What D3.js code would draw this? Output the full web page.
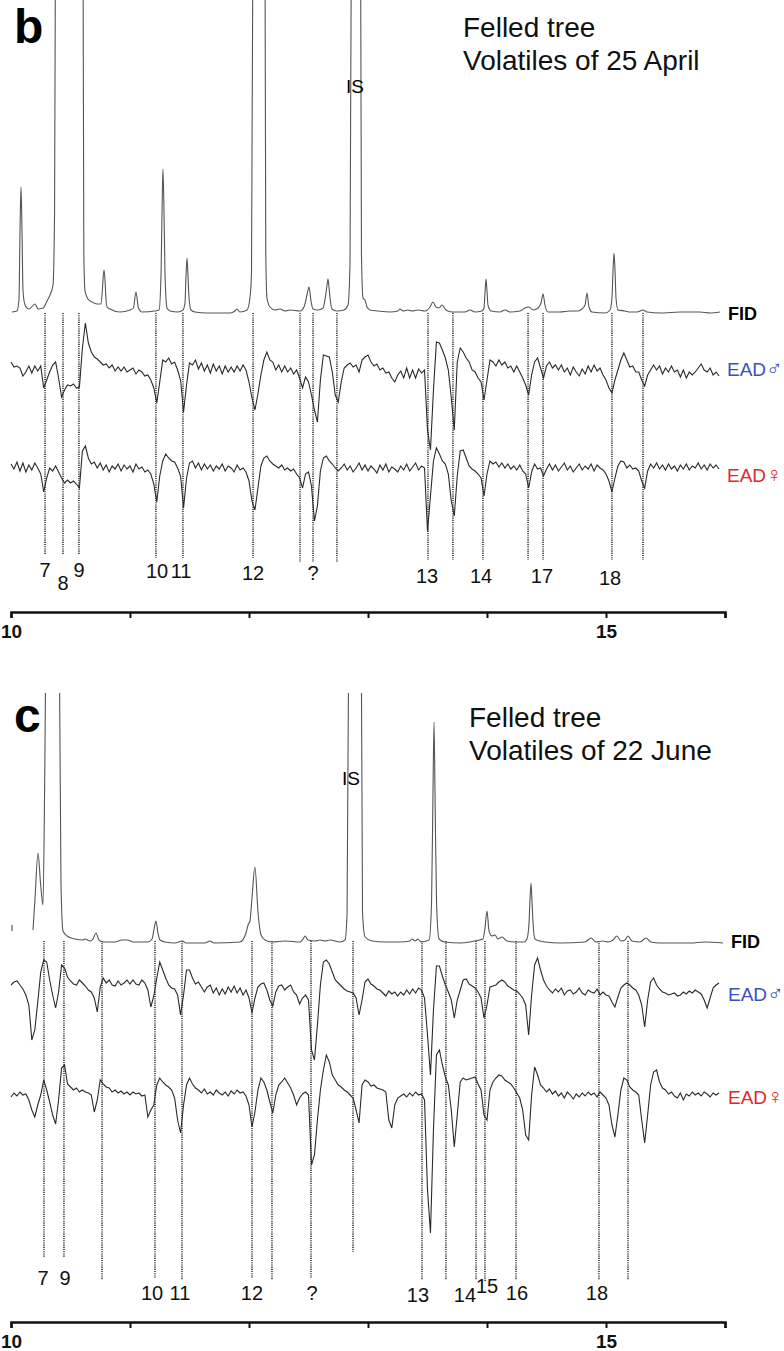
<!DOCTYPE html>
<html>
<head>
<meta charset="utf-8">
<script src="https://cdn.jsdelivr.net/npm/d3@7"></script>
<style>
  body { margin: 0; background: #fff; }
  text { font-family: "Liberation Sans", Arial, sans-serif; }
</style>
</head>
<body>
<script>
// retention time axis (min)
var axisTicks = [10, 11, 12, 13, 14, 15, 16];
var tickLabels = ["10", "", "", "", "", "15", ""];

// FID traces: [retention time (min), response]
var fidB = [[10.008,1],[10.050,2],[10.067,13],[10.076,85],[10.084,126],[10.092,85],[10.101,22],[10.118,8],[10.151,4],[10.202,9],[10.227,4],[10.269,5],[10.303,12],[10.328,18],[10.353,28],[10.366,100],[10.374,400],[10.487,5000],[10.605,400],[10.612,60],[10.622,22],[10.647,14],[10.681,11],[10.723,9],[10.756,9],[10.769,25],[10.774,35],[10.782,43],[10.790,33],[10.797,16],[10.807,6],[10.832,4],[10.916,1],[11.000,3],[11.029,5],[11.050,21],[11.071,5],[11.101,1],[11.210,2],[11.244,3],[11.261,40],[11.269,100],[11.277,144],[11.286,100],[11.294,40],[11.311,5],[11.336,2],[11.403,1],[11.445,3],[11.462,10],[11.471,38],[11.479,55],[11.487,38],[11.496,15],[11.513,3],[11.546,1],[11.647,0],[11.840,0],[11.882,2],[11.899,4],[11.924,1],[11.983,3],[12.008,15],[12.021,40],[12.034,400],[12.084,6000],[12.134,400],[12.141,60],[12.151,15],[12.176,6],[12.218,3],[12.261,4],[12.303,2],[12.345,3],[12.429,2],[12.462,6],[12.487,18],[12.504,26],[12.521,12],[12.538,4],[12.580,3],[12.622,5],[12.647,20],[12.656,28],[12.664,34],[12.672,26],[12.681,15],[12.697,4],[12.739,2],[12.798,3],[12.832,8],[12.849,50],[12.861,400],[12.899,6000],[12.937,400],[12.945,60],[12.958,15],[12.975,13],[12.992,6],[13.017,3],[13.084,2],[13.185,1],[13.252,2],[13.269,4],[13.294,2],[13.336,3],[13.370,2],[13.420,3],[13.479,2],[13.521,6],[13.546,11],[13.571,6],[13.597,5],[13.622,8],[13.655,3],[13.706,1],[13.815,1],[13.857,3],[13.899,1],[13.958,2],[13.975,5],[13.984,22],[13.992,34],[14.000,22],[14.008,8],[14.034,2],[14.109,1],[14.151,3],[14.193,1],[14.277,2],[14.319,5],[14.353,6],[14.387,3],[14.429,5],[14.454,10],[14.471,19],[14.487,8],[14.513,1],[14.613,1],[14.697,2],[14.765,2],[14.798,4],[14.824,8],[14.840,20],[14.857,6],[14.882,1],[14.992,0],[15.034,3],[15.050,15],[15.059,42],[15.067,60],[15.076,42],[15.084,15],[15.101,3],[15.160,2],[15.202,1],[15.261,1],[15.311,3],[15.345,1],[15.454,0],[15.622,1],[15.790,1],[15.874,0],[15.958,1]];

var fidC = [[10.185,13],[10.202,45],[10.227,90],[10.248,60],[10.269,38],[10.282,150],[10.290,260],[10.345,5000],[10.408,260],[10.420,60],[10.437,12],[10.471,7],[10.538,4],[10.605,3],[10.622,4],[10.664,2],[10.689,4],[10.714,10],[10.739,3],[10.773,1],[10.874,1],[10.933,3],[10.983,3],[11.025,1],[11.151,1],[11.185,4],[11.202,14],[11.218,22],[11.235,10],[11.252,3],[11.294,1],[11.378,0],[11.437,2],[11.471,0],[11.630,0],[11.672,2],[11.706,0],[11.924,1],[11.975,10],[11.992,18],[12.008,22],[12.025,45],[12.050,76],[12.076,30],[12.101,8],[12.134,3],[12.193,1],[12.303,2],[12.429,1],[12.454,4],[12.471,7],[12.496,3],[12.555,2],[12.597,3],[12.639,2],[12.681,3],[12.765,1],[12.807,3],[12.824,30],[12.836,260],[12.891,6000],[12.945,260],[12.954,30],[12.975,6],[13.034,2],[13.143,1],[13.269,1],[13.353,2],[13.370,4],[13.395,2],[13.420,4],[13.445,1],[13.513,3],[13.534,40],[13.546,150],[13.555,221],[13.563,150],[13.576,40],[13.597,4],[13.647,1],[13.773,0],[13.857,1],[13.899,2],[13.966,4],[13.983,15],[14.000,32],[14.017,12],[14.042,7],[14.067,8],[14.092,4],[14.126,6],[14.168,2],[14.235,1],[14.311,1],[14.336,4],[14.353,20],[14.361,42],[14.370,60],[14.378,42],[14.387,20],[14.403,4],[14.445,2],[14.487,1],[14.613,0],[14.824,1],[14.874,5],[14.916,1],[14.975,2],[15.017,1],[15.059,3],[15.092,7],[15.126,2],[15.160,3],[15.185,7],[15.218,2],[15.286,1],[15.336,5],[15.378,1],[15.454,0],[15.706,0],[15.832,1],[15.983,0]];
var fidCStub = [[10.008,12],[10.008,18]];

// EAD traces, sampled every 0.025 min from 10.0 min
var eadStart = 10, eadStep = 0.025;
var eadMaleB = [8,3,4,2,-6,-2,4,-3,4,-1, 4,-18,-10,-2,5,8,-8,-27,-20,-15, -16,-14,-18,-17,22,47,27,18,13,11, 8,5,6,2,5,-1,3,-1,3,-2, 0,2,-4,0,-2,-6,-5,-10,-18,-33, -12,10,8,12,6,8,0,-10,-42,-15, 7,5,10,1,7,-1,5,-3,6,-1, 4,-4,4,-2,3,-2,4,-1,5,0, -12,-28,-40,-24,-5,10,18,10,8,0, 5,-2,4,-2,2,-4,0,-8,-18,-7, -12,-25,-40,-52,-10,15,14,13,-2,-25, -32,-12,2,5,7,3,5,-2,10,13, 15,8,4,6,0,2,-3,-2,-8,-12, -5,-1,-8,2,-8,0,-8,1,-3,0, -60,-80,-20,28,27,20,12,0,-28,-60, 8,22,18,12,8,0,-2,-8,-12,-30, -10,10,8,4,10,5,8,2,4,-2, 4,-2,-8,-15,-25,-5,8,12,2,-8, 4,8,2,5,0,5,-2,2,-5,3, -2,-6,1,-4,4,-2,5,-1,2,-5, -10,-18,-23,-10,0,10,17,10,3,4, -2,-2,-10,-16,-5,0,5,0,4,-4, 2,-2,4,-2,0,-7,0,-8,-2,-5, -2,2,6,0,-2,2,-5,-2,-6];
var eadFemaleB = [2,-3,4,-5,3,-6,1,-4,3,-2, -8,-26,-12,-2,-5,0,-6,-12,-17,-14, -17,-15,-18,-22,15,20,8,2,4,-2, 3,-4,1,-6,0,-3,2,-5,1,-3, 0,-6,2,-3,-1,-6,-4,-8,-18,-36, -10,5,12,8,5,4,-2,-10,-42,-12, 3,5,-2,3,-4,2,-3,1,-5,0, -3,2,-5,0,-2,-6,1,-4,-2,-6, -15,-35,-44,-22,0,8,10,5,2,0, -2,1,-4,-2,-5,-3,-8,-12,-22,-8, -6,-20,-55,-40,-5,8,10,5,2,-2, -5,-2,2,-4,0,-6,-2,3,-4,1, -5,0,-3,-7,1,-4,2,-6,-1,-3, -6,0,-4,2,-5,-1,3,-4,0,-2, -65,-30,5,18,12,5,2,-8,-35,-50, -10,15,16,8,0,-3,-5,-8,-12,-30, -8,5,2,4,-1,3,-2,2,-3,0, -4,1,-5,-8,-22,-6,2,-3,-2,-10, -3,2,-4,1,-5,-1,3,-4,0,-6, -2,2,-4,0,-3,2,-5,1,-2,-4, -8,-15,-26,-12,0,5,4,-2,1,-3, -2,-5,-15,-22,-5,2,-2,3,-3,1, -4,2,-3,0,-5,1,-3,2,-4,0, -2,3,-3,1,-4,2,-2,1,-3];
var eadMaleC = [5,8,9,5,1,-5,-15,-50,-40,-12, 18,30,28,10,-5,-18,-2,25,22,13, 9,6,5,10,7,4,0,-2,-8,-22, 3,12,7,10,5,4,9,5,7,10, 6,10,6,5,10,7,0,-17,-6,12, 28,20,12,5,2,1,-5,-25,-5,20, 20,12,6,8,3,-2,3,5,-3,2, -5,1,-4,3,-2,4,-3,2,-5,0, -8,-23,-8,3,6,7,0,-10,-16,-2, 4,5,0,3,5,-2,-5,-14,-8,-5, -10,-60,-70,-35,5,28,30,26,18,10, 7,4,1,-1,-2,-3,-8,-25,-10,8, 11,6,4,1,0,-3,-6,-1,-4,-2, -6,-2,-5,0,-4,1,-3,2,0,-8, -45,-85,-20,24,24,14,5,-2,-10,-28, -10,0,10,11,6,4,2,-2,-8,-28, -15,3,4,5,8,10,8,4,2,0, -1,-4,-8,-15,-45,-5,25,32,20,10, 4,0,-3,1,-2,2,-5,-1,0,-4, -2,2,-3,-5,0,-2,-3,1,-5,-2, -5,-6,-12,-17,-7,2,5,7,5,2, 0,-5,-15,-37,-10,8,12,5,1,-2, -3,-5,-4,-3,-6,-5,-2,-4,-1,-3, 0,-2,-4,-10,-18,-8,2,5,7];
var eadFemaleC = [-7,-3,-6,-2,-5,-4,-10,-20,-27,-15, -5,10,0,-12,-25,-34,-10,22,25,6, 3,0,2,-2,0,-2,-3,-5,-22,-10, 10,6,3,2,-2,0,-3,-1,-4,-2, -5,-2,-4,-3,-6,-5,-27,-20,-15,5, 12,8,5,3,0,-8,-30,-43,-15,5, 12,6,2,0,-3,1,-4,-2,-5,0, -3,-5,-2,-6,-1,-4,0,-3,-2,-6, -15,-37,-22,0,12,8,0,-12,-23,-5, 5,8,12,7,2,-5,-15,-8,-4,-2, -5,-75,-65,-30,0,20,35,28,15,10, 5,3,0,-2,-5,-8,-20,-33,5,10, 8,4,5,2,1,0,-2,-30,-38,-15, -8,-6,-4,-7,-3,-6,-2,-5,-4,-10, -100,-143,-40,35,40,25,13,5,-20,-57, -25,8,12,10,11,12,13,6,0,-25, -30,0,8,12,15,14,10,8,6,2, -3,-8,-20,-45,-50,-5,23,15,5,2, -2,1,-4,-1,-6,-3,-8,-2,-5,-9, -4,-7,-3,-6,-2,-5,-3,-7,-2,-5, -8,-15,-35,-47,-25,0,12,10,3,0, -2,-5,-30,-53,-25,5,18,20,8,2, 0,-4,-2,-6,-8,-3,-10,-4,-6,-2, -5,-3,-6,-2,-4,-7,-3,-5,-3];

// EAD-active retention times (dotted guide lines) and their labels
var markerTimesB = [10.286,10.437,10.571,11.218,11.445,12.034,12.429,12.538,12.739,13.504,13.714,13.966,14.345,14.471,15.050,15.311];
var labelsB = ["7","8","9","10","11","12","?","13","14","17","18"];
var labelTimesB = [10.286,10.437,10.571,11.227,11.429,12.034,12.538,13.496,13.950,14.462,15.034];
var markerTimesC = [10.277,10.445,10.765,11.210,11.437,12.025,12.193,12.521,12.874,13.454,13.655,13.908,13.983,14.244,14.941,15.185];
var labelsC = ["7","9","10","11","12","?","13","14","15","16","18"];
var labelTimesC = [10.269,10.454,11.185,11.420,12.025,12.529,13.420,13.815,14.000,14.252,14.924];

// layout of the two panels
var panels = [
  { letter: "b", letterY: 43, title: ["Felled tree", "Volatiles of 25 April"], titleX: 463, titleY: [37, 70],
    clipTop: 0, fidBase: 313, maleBase: 370, femaleBase: 466, markerTop: 313, axisY: 612,
    isX: 355, isY: 93, fidLab: [728, 320], maleLab: [727, 376], femaleLab: [727, 482],
    fid: fidB, stub: null, male: eadMaleB, female: eadFemaleB,
    markers: markerTimesB, markerEnd: [555,555,555,558,558,558,562,562,562,560,560,560,560,560,560,560],
    labels: labelsB, labelTimes: labelTimesB, labelY: [577,590,577,578,578,580,580,583,583,583,585] },
  { letter: "c", letterY: 732, title: ["Felled tree", "Volatiles of 22 June"], titleX: 469, titleY: [727, 760],
    clipTop: 693, fidBase: 943, maleBase: 990, femaleBase: 1090, markerTop: 941, axisY: 1322,
    isX: 351, isY: 785, fidLab: [731, 948], maleLab: [728, 1001], femaleLab: [728, 1104],
    fid: fidC, stub: fidCStub, male: eadMaleC, female: eadFemaleC,
    markers: markerTimesC, markerEnd: [1257,1257,1280,1278,1280,1278,1280,1278,1252,1280,1280,1280,1282,1280,1280,1280],
    labels: labelsC, labelTimes: labelTimesC, labelY: [1285,1285,1300,1300,1300,1300,1302,1302,1293,1300,1300] }
];

var svg = d3.select("body").append("svg")
    .attr("width", 784)
    .attr("height", 1351);

var x = d3.scaleLinear().domain([10, 16]).range([11, 725]);

function eadPoints(vals) {
    return vals.map(function(v, i) { return [eadStart + i * eadStep, v]; });
}

panels.forEach(function(p, k) {
    var g = svg.append("g");

    var yF = d3.scaleLinear().domain([0, p.fidBase - p.clipTop]).range([p.fidBase, p.clipTop]);
    var yM = d3.scaleLinear().domain([-100, 100]).range([p.maleBase + 100, p.maleBase - 100]);
    var yW = d3.scaleLinear().domain([-100, 100]).range([p.femaleBase + 100, p.femaleBase - 100]);

    var clipId = "clip" + k;
    svg.append("clipPath").attr("id", clipId)
        .append("rect").attr("x", 0).attr("y", p.clipTop).attr("width", 784).attr("height", 1351);

    // dotted guide lines
    g.selectAll(".mk").data(p.markers).enter().append("line")
        .attr("x1", function(d) { return x(d); })
        .attr("x2", function(d) { return x(d); })
        .attr("y1", p.markerTop)
        .attr("y2", function(d, i) { return p.markerEnd[i]; })
        .attr("stroke", "#000")
        .attr("stroke-width", 1.3)
        .attr("stroke-dasharray", "1.1,1.1");

    // FID
    var fidLine = d3.line()
        .x(function(d) { return x(d[0]); })
        .y(function(d) { return yF(d[1]); })
        .curve(d3.curveMonotoneX);
    g.append("path").datum(p.fid)
        .attr("clip-path", "url(#" + clipId + ")")
        .attr("d", fidLine)
        .attr("fill", "none")
        .attr("stroke", "#555")
        .attr("stroke-width", 1.1);
    if (p.stub) {
        g.append("path").datum(p.stub)
            .attr("d", d3.line().x(function(d) { return x(d[0]); }).y(function(d) { return yF(d[1]); }))
            .attr("stroke", "#555").attr("stroke-width", 1.2);
    }

    // EAD traces
    var maleLine = d3.line().x(function(d) { return x(d[0]); }).y(function(d) { return yM(d[1]); });
    var femaleLine = d3.line().x(function(d) { return x(d[0]); }).y(function(d) { return yW(d[1]); });
    g.append("path").datum(eadPoints(p.male))
        .attr("d", maleLine).attr("fill", "none").attr("stroke", "#2a2a2a").attr("stroke-width", 1.1);
    g.append("path").datum(eadPoints(p.female))
        .attr("d", femaleLine).attr("fill", "none").attr("stroke", "#2a2a2a").attr("stroke-width", 1.1);

    // compound numbers
    g.selectAll(".lab").data(p.labels).enter().append("text")
        .attr("x", function(d, i) { return x(p.labelTimes[i]); })
        .attr("y", function(d, i) { return p.labelY[i]; })
        .attr("text-anchor", "middle")
        .attr("font-size", 20)
        .attr("fill", "#111")
        .text(function(d) { return d; });

    // axis
    var axis = d3.axisBottom(x)
        .tickValues(axisTicks)
        .tickSize(6)
        .tickPadding(7)
        .tickFormat(function(d, i) { return tickLabels[i]; });
    var ga = g.append("g")
        .attr("transform", "translate(0," + p.axisY + ")")
        .call(axis)
        .attr("font-family", "Liberation Sans, Arial, sans-serif")
        .attr("font-size", 19)
        .attr("font-weight", "bold");
    ga.select(".domain").attr("stroke", "#111").attr("stroke-width", 2.5);
    ga.selectAll(".tick line").attr("stroke", "#111").attr("stroke-width", 2);
    ga.selectAll(".tick text").attr("fill", "#111");

    // panel letter, title and trace labels
    g.append("text").attr("x", 14).attr("y", p.letterY)
        .attr("font-size", 48).attr("font-weight", "bold").text(p.letter);
    g.selectAll(".ttl").data(p.title).enter().append("text")
        .attr("x", p.titleX)
        .attr("y", function(d, i) { return p.titleY[i]; })
        .attr("font-size", 28)
        .attr("fill", "#111")
        .text(function(d) { return d; });
    g.append("text").attr("x", p.isX).attr("y", p.isY)
        .attr("text-anchor", "middle").attr("font-size", 19).text("IS");
    g.append("text").attr("x", p.fidLab[0]).attr("y", p.fidLab[1])
        .attr("font-size", 18).attr("font-weight", "bold").text("FID");

    var tm = g.append("text").attr("x", p.maleLab[0]).attr("y", p.maleLab[1])
        .attr("font-size", 19).attr("fill", "#3b4fc4");
    tm.append("tspan").text("EAD");
    tm.append("tspan").attr("font-family", "DejaVu Sans").attr("font-size", 22).attr("font-weight", 200).text("\u2642");
    var tf = g.append("text").attr("x", p.femaleLab[0]).attr("y", p.femaleLab[1])
        .attr("font-size", 19).attr("fill", "#e0282a");
    tf.append("tspan").text("EAD");
    tf.append("tspan").attr("font-family", "DejaVu Sans").attr("font-size", 22).attr("font-weight", 200).text("\u2640");
});
</script>
</body>
</html>
